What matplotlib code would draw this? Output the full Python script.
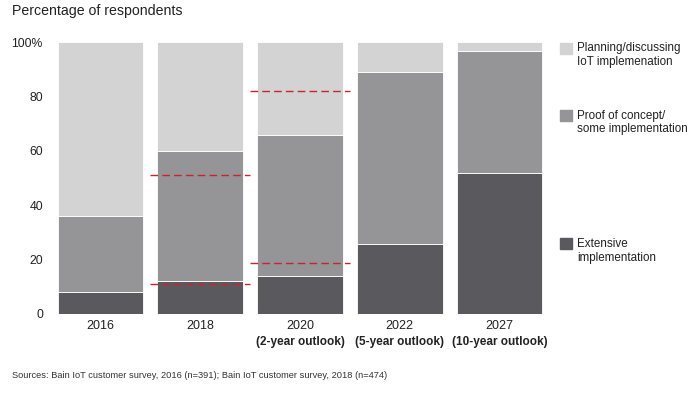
import matplotlib.pyplot as plt
import matplotlib.transforms as mtransforms
import numpy as np

plt.rcParams['font.family'] = ['Liberation Sans', 'DejaVu Sans']

years = ["2016", "2018", "2020", "2022", "2027"]
outlooks = ["", "", "(2-year outlook)", "(5-year outlook)", "(10-year outlook)"]
extensive = [8, 12, 14, 25.5, 52]
proof = [28, 48, 52, 63.5, 45]
planning = [64, 40, 34, 11, 3]
# red dashed reference lines: (bar index, value)
ref_lines = [(1, 51), (1, 11), (2, 82), (2, 18.5)]

legend_labels = ["Planning/discussing\nIoT implemenation",
                 "Proof of concept/\nsome implementation",
                 "Extensive\nimplementation"]

c_light = "#d3d3d4"
c_mid = "#959597"
c_dark = "#5a5a5e"

fig = plt.figure(figsize=(6.91, 3.98), dpi=100)
ax = fig.add_axes([0.0732, 0.2123, 0.7219, 0.681])

x = np.arange(len(years))
w = 0.86
ext = np.array(extensive)
prf = np.array(proof)
ax.bar(x, ext, w, color=c_dark, edgecolor="white", linewidth=0.6)
ax.bar(x, prf, w, bottom=ext, color=c_mid, edgecolor="white", linewidth=0.6)
ax.bar(x, planning, w, bottom=ext + prf, color=c_light, edgecolor="white", linewidth=0.6)

for i, v in ref_lines:
    ax.plot([i - 0.5, i + 0.5], [v, v], color="#c8242e", lw=1.0,
            dashes=(5.5, 3))

ax.set_xlim(-0.5, 4.5)
ax.set_ylim(0, 100)
ax.set_yticks([0, 20, 40, 60, 80, 100])
ax.set_yticklabels(["0", "20", "40", "60", "80", "100%"])
ax.set_xticks(x)
ax.set_xticklabels(years)
ax.tick_params(length=0, labelsize=9, colors="#222222")
ax.tick_params(axis="y", labelsize=8.8, pad=5.5)
ax.tick_params(axis="x", pad=5)
for s in ax.spines.values():
    s.set_visible(False)

trans = mtransforms.blended_transform_factory(ax.transData, fig.transFigure)
for i, t in enumerate(outlooks):
    if t:
        ax.text(i, 1 - 342 / 398, t, transform=trans, ha="center", va="center",
                fontsize=8.5, fontweight="bold", color="#222222")

# legend: (colour, square top px, text centre px)
leg = [(c_light, 43, 55), (c_mid, 110, 122.5), (c_dark, 238, 251)]
for (col, top, mid), lab in zip(leg, legend_labels):
    fig.patches.append(plt.Rectangle((560 / 691, 1 - (top + 11) / 398), 11.5 / 691, 11 / 398,
                                     transform=fig.transFigure, color=col))
    fig.text(577 / 691, 1 - mid / 398, lab, fontsize=8.4, va="center",
             ha="left", color="#222222", linespacing=1.2)

fig.text(12 / 691, 1 - 11 / 398, "Percentage of respondents", fontsize=10.2,
         va="center", ha="left", color="#222222")
fig.text(12 / 691, 1 - 375 / 398,
         "Sources: Bain IoT customer survey, 2016 (n=391); Bain IoT customer survey, 2018 (n=474)",
         fontsize=6.7, va="center", ha="left", color="#333333")

fig.savefig("out.png", dpi=100)
